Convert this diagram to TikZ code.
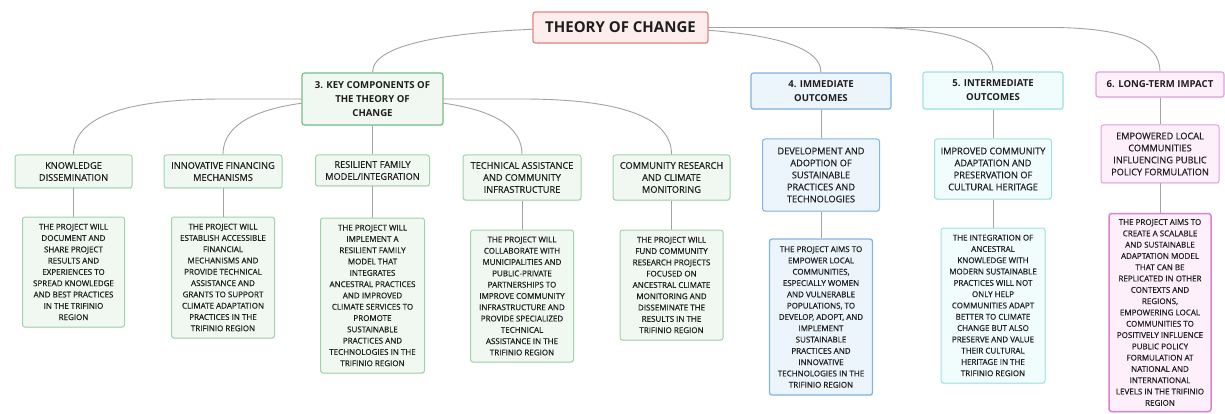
\documentclass[tikz,border=0pt]{standalone}
\usepackage{fontspec}
\setmainfont{Open Sans}
\newfontfamily\bodyfont[FakeBold=0.5]{Open Sans}
\usetikzlibrary{calc,shadows}
\pgfdeclarelayer{bg}
\pgfsetlayers{bg,main}
\definecolor{ink}{HTML}{1E1E1E}
\definecolor{lnk}{HTML}{A3A3A3}
\definecolor{redB}{HTML}{E38686}
\definecolor{redF}{HTML}{FDEDED}
\definecolor{grnB}{HTML}{74C086}
\definecolor{grnF}{HTML}{F1F8F2}
\definecolor{grnL}{HTML}{9FD4AA}
\definecolor{bluB}{HTML}{82B5E2}
\definecolor{bluF}{HTML}{ECF4FC}
\definecolor{cyaB}{HTML}{9FE3E1}
\definecolor{cyaF}{HTML}{F1FCFC}
\definecolor{pnkB}{HTML}{E6A0DB}
\definecolor{pnkF}{HTML}{FDF0FB}
\definecolor{pnkD}{HTML}{E07FD2}
\newcommand{\cnn}[3]{%
  \path ($(#1.center -| #2.north)+(#3,0)$) coordinate (cnS)
        (#1.center -| #2.north) coordinate (cnQ);
  \draw[conn] (#1.center) -- (cnS)
     .. controls ($(cnS)!0.6667!(cnQ)$) and ($(#2.north)!0.6667!(cnQ)$) .. (#2.north);}
\tikzset{
  conn/.style={draw=lnk, line width=0.9pt},
  box/.style={rounded corners=2.5pt, inner sep=0pt, align=center, text=ink,
     drop shadow={opacity=0.12, shadow xshift=0.4pt, shadow yshift=-1.2pt}},
  ttl/.style={box, draw=redB, fill=redF, line width=1.3pt,
     font=\bfseries\fontsize{15}{18}\selectfont},
  lvtwo/.style={box, line width=1.2pt, font=\bfseries\fontsize{9.6}{14}\selectfont},
  hdr/.style={box, line width=1pt, font=\bodyfont\fontsize{9.2}{12}\selectfont},
  bdy/.style={box, line width=1pt, font=\bodyfont\fontsize{8}{11.3}\selectfont},
  gT/.style={lvtwo, draw=grnB, fill=grnF},
  bT/.style={lvtwo, draw=bluB, fill=bluF},
  cT/.style={lvtwo, draw=cyaB, fill=cyaF},
  pT/.style={lvtwo, draw=pnkB, fill=pnkF},
  gH/.style={hdr, draw=grnL, fill=grnF},
  gB/.style={bdy, draw=grnL, fill=grnF},
  bH/.style={hdr, draw=bluB, fill=bluF},
  bB/.style={bdy, draw=bluB, fill=bluF, line width=1.3pt},
  cH/.style={hdr, draw=cyaB, fill=cyaF},
  cB/.style={bdy, draw=cyaB, fill=cyaF},
  pH/.style={hdr, draw=pnkB, fill=pnkF},
  pB/.style={bdy, draw=pnkD, fill=pnkF, line width=1.5pt},
}
\begin{document}
\begin{tikzpicture}[x=1pt, y=-1pt]
\useasboundingbox (0,0) rectangle (1225,414);
\begin{pgfonlayer}{bg}
  \fill[white] (0,0) rectangle (1225,414);
\end{pgfonlayer}

% top
\node[ttl, minimum width=175, minimum height=31] (t) at (620.5,27.5) {THEORY OF CHANGE};

% level two
\node[gT, minimum width=141, minimum height=52] (k3) at (372.5,99) {3. KEY COMPONENTS OF\\THE THEORY OF\\CHANGE};
\node[bT, minimum width=140, minimum height=36] (o4) at (821,91) {4. IMMEDIATE\\OUTCOMES};
\node[cT, minimum width=140, minimum height=37] (o5) at (993,90.5) {5. INTERMEDIATE\\OUTCOMES};
\node[pT, minimum width=128, minimum height=25] (o6) at (1160,84.5) {6. LONG-TERM IMPACT};

% level three headers
\node[gH, minimum width=117, minimum height=33] (kd) at (73.5,171.5) {KNOWLEDGE\\DISSEMINATION};
\node[gH, minimum width=118, minimum height=33] (ifm) at (223,171.5) {INNOVATIVE FINANCING\\MECHANISMS};
\node[gH, minimum width=114, minimum height=31] (rfm) at (372.5,170.5) {RESILIENT FAMILY\\MODEL/INTEGRATION};
\node[gH, minimum width=118, minimum height=45] (tec) at (522,177.5) {TECHNICAL ASSISTANCE\\AND COMMUNITY\\INFRASTRUCTURE};
\node[gH, minimum width=117, minimum height=45] (crm) at (671.5,177.5) {COMMUNITY RESEARCH\\AND CLIMATE\\MONITORING};
\node[bH, minimum width=117, minimum height=72] (dev) at (821,175) {DEVELOPMENT AND\\ADOPTION OF\\SUSTAINABLE\\PRACTICES AND\\TECHNOLOGIES};
\node[cH, minimum width=117, minimum height=60] (imp) at (993,169) {IMPROVED COMMUNITY\\ADAPTATION AND\\PRESERVATION OF\\CULTURAL HERITAGE};
\node[pH, minimum width=118, minimum height=58] (emp) at (1160,154) {EMPOWERED LOCAL\\COMMUNITIES\\INFLUENCING PUBLIC\\POLICY FORMULATION};

% body texts
\node[gB, minimum width=102, minimum height=110] (kdt) at (73.5,272) {THE PROJECT WILL\\DOCUMENT AND\\SHARE PROJECT\\RESULTS AND\\EXPERIENCES TO\\SPREAD KNOWLEDGE\\AND BEST PRACTICES\\IN THE TRIFINIO\\REGION};
\node[gB, minimum width=103, minimum height=121] (ifmt) at (223,277.5) {THE PROJECT WILL\\ESTABLISH ACCESSIBLE\\FINANCIAL\\MECHANISMS AND\\PROVIDE TECHNICAL\\ASSISTANCE AND\\GRANTS TO SUPPORT\\CLIMATE ADAPTATION\\PRACTICES IN THE\\TRIFINIO REGION};
\node[gB, minimum width=104, minimum height=155] (rfmt) at (372.5,295.5) {THE PROJECT WILL\\IMPLEMENT A\\RESILIENT FAMILY\\MODEL THAT\\INTEGRATES\\ANCESTRAL PRACTICES\\AND IMPROVED\\CLIMATE SERVICES TO\\PROMOTE\\SUSTAINABLE\\PRACTICES AND\\TECHNOLOGIES IN THE\\TRIFINIO REGION};
\node[gB, minimum width=103, minimum height=132] (tect) at (522,296) {THE PROJECT WILL\\COLLABORATE WITH\\MUNICIPALITIES AND\\PUBLIC-PRIVATE\\PARTNERSHIPS TO\\IMPROVE COMMUNITY\\INFRASTRUCTURE AND\\PROVIDE SPECIALIZED\\TECHNICAL\\ASSISTANCE IN THE\\TRIFINIO REGION};
\node[gB, minimum width=103, minimum height=110] (crmt) at (671.5,285) {THE PROJECT WILL\\FUND COMMUNITY\\RESEARCH PROJECTS\\FOCUSED ON\\ANCESTRAL CLIMATE\\MONITORING AND\\DISSEMINATE THE\\RESULTS IN THE\\TRIFINIO REGION};
\node[bB, minimum width=103, minimum height=156] (devt) at (821,317) {THE PROJECT AIMS TO\\EMPOWER LOCAL\\COMMUNITIES,\\ESPECIALLY WOMEN\\AND VULNERABLE\\POPULATIONS, TO\\DEVELOP, ADOPT, AND\\IMPLEMENT\\SUSTAINABLE\\PRACTICES AND\\INNOVATIVE\\TECHNOLOGIES IN THE\\TRIFINIO REGION};
\node[cB, minimum width=104, minimum height=155] (impt) at (993,305.5) {THE INTEGRATION OF\\ANCESTRAL\\KNOWLEDGE WITH\\MODERN SUSTAINABLE\\PRACTICES WILL NOT\\ONLY HELP\\COMMUNITIES ADAPT\\BETTER TO CLIMATE\\CHANGE BUT ALSO\\PRESERVE AND VALUE\\THEIR CULTURAL\\HERITAGE IN THE\\TRIFINIO REGION};
\node[pB, minimum width=102, minimum height=198] (empt) at (1160,312.5) {THE PROJECT AIMS TO\\CREATE A SCALABLE\\AND SUSTAINABLE\\ADAPTATION MODEL\\THAT CAN BE\\REPLICATED IN OTHER\\CONTEXTS AND\\REGIONS,\\EMPOWERING LOCAL\\COMMUNITIES TO\\POSITIVELY INFLUENCE\\PUBLIC POLICY\\FORMULATION AT\\NATIONAL AND\\INTERNATIONAL\\LEVELS IN THE TRIFINIO\\REGION};

% connectors
\begin{pgfonlayer}{bg}
  \cnn{t}{k3}{248}
  \cnn{t}{o4}{-200}
  \cnn{t}{o5}{-130}
  \cnn{t}{o6}{-110}
  \cnn{k3}{kd}{150}
  \cnn{k3}{ifm}{149.5}
  \cnn{k3}{tec}{-149.5}
  \cnn{k3}{crm}{-150}
  \draw[conn] (k3) -- (rfm);
  \draw[conn] (o4) -- (dev);
  \draw[conn] (o5) -- (imp);
  \draw[conn] (o6) -- (emp);
  \draw[conn] (kd) -- (kdt);
  \draw[conn] (ifm) -- (ifmt);
  \draw[conn] (rfm) -- (rfmt);
  \draw[conn] (tec) -- (tect);
  \draw[conn] (crm) -- (crmt);
  \draw[conn] (dev) -- (devt);
  \draw[conn] (imp) -- (impt);
  \draw[conn] (emp) -- (empt);
\end{pgfonlayer}
\end{tikzpicture}
\end{document}
